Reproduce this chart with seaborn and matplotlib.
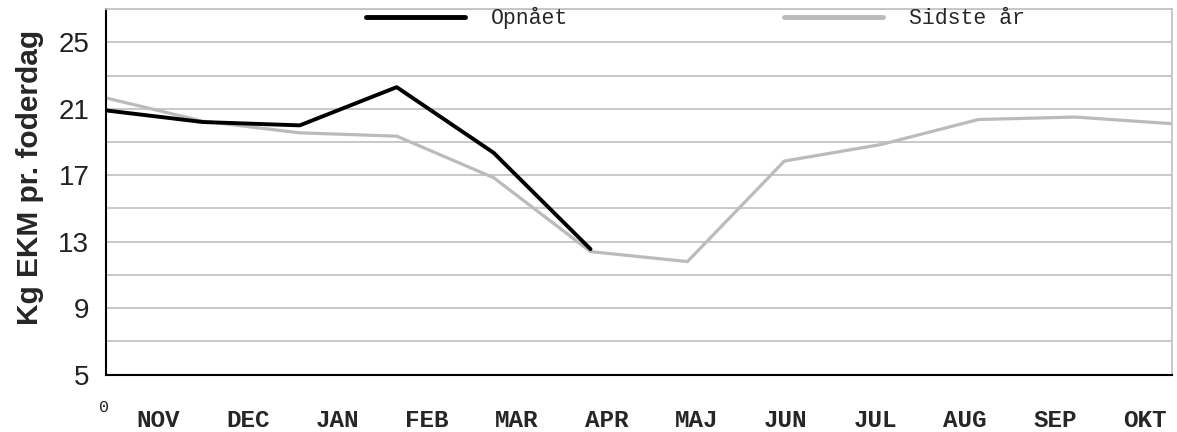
import numpy as np
import pandas as pd
import seaborn as sns
import matplotlib.pyplot as plt

months = ["NOV", "DEC", "JAN", "FEB", "MAR", "APR",
          "MAJ", "JUN", "JUL", "AUG", "SEP", "OKT"]
opnaaet = [20.9, 20.2, 20.0, 22.3, 18.35, 12.55,
           np.nan, np.nan, np.nan, np.nan, np.nan, np.nan]
sidste_aar = [21.65, 20.25, 19.55, 19.35, 16.85, 12.4,
              11.8, 17.85, 18.85, 20.35, 20.5, 20.1]
y_labels = [5, 9, 13, 17, 21, 25]
y_between = [7, 11, 15, 19, 23, 27]

df = pd.DataFrame({"idx": np.arange(len(months)),
                   "Opnået": opnaaet, "Sidste år": sidste_aar})

sns.set_style("white")
plt.rcParams['font.family'] = ['Liberation Sans', 'DejaVu Sans']
mono = ['Liberation Mono', 'DejaVu Sans Mono']

fig, ax = plt.subplots(figsize=(11.77, 4.32), dpi=100)
fig.subplots_adjust(left=0.090, right=0.9958, bottom=0.133, top=0.979)

# gray under black, like the original
sns.lineplot(data=df, x="idx", y="Sidste år", color="#bbbbbb", lw=2.3,
             label="Sidste år", ax=ax)
sns.lineplot(data=df.dropna(), x="idx", y="Opnået", color="black", lw=2.8,
             label="Opnået", ax=ax)

ax.set_xlim(0, len(months) - 1)
ax.set_ylim(5, 27)
ax.set_yticks(y_labels)
ax.set_yticks(y_between, minor=True)
ax.grid(True, which="both", axis="y", color="#c4c4c4", lw=1.3)
ax.set_axisbelow(True)

# month labels sit a bit off the data points in the original
tick_pos = 0.54 + 0.925 * np.arange(len(months))
ax.set_xticks(tick_pos)
ax.set_xticklabels(months, family=mono, fontweight="bold", fontsize=17.5)
ax.tick_params(axis="x", length=0, pad=25)
ax.tick_params(axis="y", which="both", length=0, pad=12, labelsize=20,
               labelcolor="#222222")

ax.set_xlabel("")
ax.set_ylabel("Kg EKM pr. foderdag", fontsize=21.5, fontweight="bold")
ax.yaxis.set_label_coords(-0.058, 0.54)
ax.text(-0.002, -0.09, "0", transform=ax.transAxes, ha="center", va="center",
        fontsize=12, family=mono)

for s in ["top", "right"]:
    ax.spines[s].set_color("#c4c4c4")
    ax.spines[s].set_linewidth(1.3)
for s in ["left", "bottom"]:
    ax.spines[s].set_color("black")
    ax.spines[s].set_linewidth(1.5)

handles, labels = ax.get_legend_handles_labels()
order = [labels.index("Opnået"), labels.index("Sidste år")]
leg = ax.legend([handles[i] for i in order], [labels[i] for i in order],
                ncol=2, loc="center", bbox_to_anchor=(0.553, 0.975),
                frameon=False, handlelength=4.6, handletextpad=1.2,
                columnspacing=10.0, borderpad=0,
                prop={"family": mono, "size": 15.5})
for line in leg.get_lines():
    line.set_linewidth(3.5)

plt.savefig("out.png", dpi=100)
